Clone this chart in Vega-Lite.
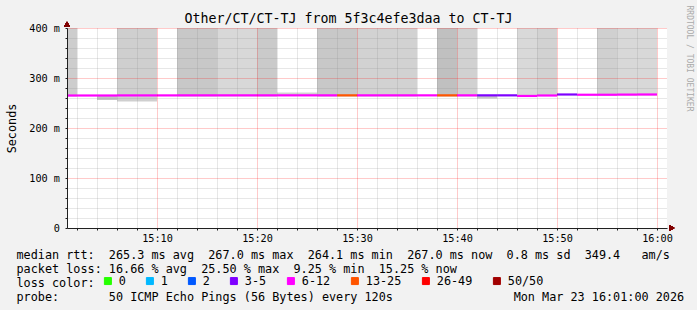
{
  "$schema": "https://vega.github.io/schema/vega-lite/v6.json",
  "width": 600,
  "height": 200,
  "autosize": {"type": "none"},
  "padding": {"left": 67, "top": 28, "right": 30, "bottom": 82},
  "background": "#f2f2f2",
  "view": {"fill": "#ffffff", "stroke": null},
  "title": {
    "text": "Other/CT/CT-TJ from 5f3c4efe3daa to CT-TJ",
    "font": "DejaVu Sans Mono", "fontSize": 13.3, "fontWeight": "normal", "color": "#000000",
    "anchor": "middle", "frame": "group", "dx": -18.5, "offset": -31, "baseline": "alphabetic"
  },
  "data": {
    "values": [
      {"start": "2026-03-23T15:00:00Z", "end": "2026-03-23T15:02:00Z", "smoke_lo": 263, "smoke_hi": 400, "density": 0.5, "median": 265.0, "loss": "6-12"},
      {"start": "2026-03-23T15:02:00Z", "end": "2026-03-23T15:04:00Z", "smoke_lo": null, "smoke_hi": null, "density": null, "median": 265.0, "loss": "6-12"},
      {"start": "2026-03-23T15:04:00Z", "end": "2026-03-23T15:06:00Z", "smoke_lo": 256, "smoke_hi": 265, "density": 0.8, "median": 265.0, "loss": "6-12"},
      {"start": "2026-03-23T15:06:00Z", "end": "2026-03-23T15:08:00Z", "smoke_lo": 253, "smoke_hi": 400, "density": 0.42, "median": 265.2, "loss": "6-12"},
      {"start": "2026-03-23T15:08:00Z", "end": "2026-03-23T15:10:00Z", "smoke_lo": 253, "smoke_hi": 400, "density": 0.42, "median": 265.2, "loss": "6-12"},
      {"start": "2026-03-23T15:10:00Z", "end": "2026-03-23T15:12:00Z", "smoke_lo": null, "smoke_hi": null, "density": null, "median": 265.2, "loss": "6-12"},
      {"start": "2026-03-23T15:12:00Z", "end": "2026-03-23T15:14:00Z", "smoke_lo": 263, "smoke_hi": 400, "density": 0.69, "median": 265.3, "loss": "6-12"},
      {"start": "2026-03-23T15:14:00Z", "end": "2026-03-23T15:16:00Z", "smoke_lo": 263, "smoke_hi": 400, "density": 0.69, "median": 265.3, "loss": "6-12"},
      {"start": "2026-03-23T15:16:00Z", "end": "2026-03-23T15:18:00Z", "smoke_lo": 263, "smoke_hi": 400, "density": 0.08, "median": 265.3, "loss": "6-12"},
      {"start": "2026-03-23T15:18:00Z", "end": "2026-03-23T15:20:00Z", "smoke_lo": 263, "smoke_hi": 400, "density": 0.08, "median": 265.3, "loss": "6-12"},
      {"start": "2026-03-23T15:20:00Z", "end": "2026-03-23T15:22:00Z", "smoke_lo": 263, "smoke_hi": 400, "density": 0.6, "median": 265.3, "loss": "6-12"},
      {"start": "2026-03-23T15:22:00Z", "end": "2026-03-23T15:24:00Z", "smoke_lo": 265, "smoke_hi": 271, "density": 0.3, "median": 265.3, "loss": "6-12"},
      {"start": "2026-03-23T15:24:00Z", "end": "2026-03-23T15:26:00Z", "smoke_lo": 265, "smoke_hi": 271, "density": 0.3, "median": 265.3, "loss": "6-12"},
      {"start": "2026-03-23T15:26:00Z", "end": "2026-03-23T15:28:00Z", "smoke_lo": 263, "smoke_hi": 400, "density": 0.69, "median": 265.3, "loss": "6-12"},
      {"start": "2026-03-23T15:28:00Z", "end": "2026-03-23T15:30:00Z", "smoke_lo": 263, "smoke_hi": 400, "density": 0.69, "median": 265.3, "loss": "13-25"},
      {"start": "2026-03-23T15:30:00Z", "end": "2026-03-23T15:32:00Z", "smoke_lo": 263, "smoke_hi": 400, "density": 0.31, "median": 265.3, "loss": "6-12"},
      {"start": "2026-03-23T15:32:00Z", "end": "2026-03-23T15:34:00Z", "smoke_lo": 263, "smoke_hi": 400, "density": 0.31, "median": 265.3, "loss": "6-12"},
      {"start": "2026-03-23T15:34:00Z", "end": "2026-03-23T15:36:00Z", "smoke_lo": 263, "smoke_hi": 400, "density": 0.31, "median": 265.3, "loss": "6-12"},
      {"start": "2026-03-23T15:36:00Z", "end": "2026-03-23T15:38:00Z", "smoke_lo": null, "smoke_hi": null, "density": null, "median": 265.3, "loss": "6-12"},
      {"start": "2026-03-23T15:38:00Z", "end": "2026-03-23T15:40:00Z", "smoke_lo": 263, "smoke_hi": 400, "density": 1.0, "median": 265.3, "loss": "13-25"},
      {"start": "2026-03-23T15:40:00Z", "end": "2026-03-23T15:42:00Z", "smoke_lo": 263, "smoke_hi": 400, "density": 0.35, "median": 265.3, "loss": "6-12"},
      {"start": "2026-03-23T15:42:00Z", "end": "2026-03-23T15:44:00Z", "smoke_lo": 259, "smoke_hi": 265, "density": 0.7, "median": 265.3, "loss": "3-5"},
      {"start": "2026-03-23T15:44:00Z", "end": "2026-03-23T15:46:00Z", "smoke_lo": null, "smoke_hi": null, "density": null, "median": 265.3, "loss": "3-5"},
      {"start": "2026-03-23T15:46:00Z", "end": "2026-03-23T15:48:00Z", "smoke_lo": 263, "smoke_hi": 400, "density": 0.04, "median": 264.1, "loss": "6-12"},
      {"start": "2026-03-23T15:48:00Z", "end": "2026-03-23T15:50:00Z", "smoke_lo": 264, "smoke_hi": 400, "density": 0.31, "median": 265.0, "loss": "6-12"},
      {"start": "2026-03-23T15:50:00Z", "end": "2026-03-23T15:52:00Z", "smoke_lo": null, "smoke_hi": null, "density": null, "median": 267.0, "loss": "3-5"},
      {"start": "2026-03-23T15:52:00Z", "end": "2026-03-23T15:54:00Z", "smoke_lo": null, "smoke_hi": null, "density": null, "median": 266.5, "loss": "6-12"},
      {"start": "2026-03-23T15:54:00Z", "end": "2026-03-23T15:56:00Z", "smoke_lo": 265, "smoke_hi": 400, "density": 0.38, "median": 266.5, "loss": "6-12"},
      {"start": "2026-03-23T15:56:00Z", "end": "2026-03-23T15:58:00Z", "smoke_lo": 265, "smoke_hi": 400, "density": 0.08, "median": 266.8, "loss": "6-12"},
      {"start": "2026-03-23T15:58:00Z", "end": "2026-03-23T16:00:00Z", "smoke_lo": 265, "smoke_hi": 400, "density": 0.08, "median": 267.0, "loss": "6-12"}
    ]
  },
  "layer": [
    {
      "mark": {"type": "rect", "clip": true},
      "encoding": {
        "x": {
          "field": "start", "type": "temporal",
          "scale": {"type": "utc", "domain": [
            {"year": 2026, "month": 3, "date": 23, "hours": 15, "minutes": 1, "utc": true},
            {"year": 2026, "month": 3, "date": 23, "hours": 16, "minutes": 1, "utc": true}
          ]},
          "axis": {
            "values": [
              {"year": 2026, "month": 3, "date": 23, "hours": 15, "minutes": 2, "utc": true},
              {"year": 2026, "month": 3, "date": 23, "hours": 15, "minutes": 4, "utc": true},
              {"year": 2026, "month": 3, "date": 23, "hours": 15, "minutes": 6, "utc": true},
              {"year": 2026, "month": 3, "date": 23, "hours": 15, "minutes": 8, "utc": true},
              {"year": 2026, "month": 3, "date": 23, "hours": 15, "minutes": 12, "utc": true},
              {"year": 2026, "month": 3, "date": 23, "hours": 15, "minutes": 14, "utc": true},
              {"year": 2026, "month": 3, "date": 23, "hours": 15, "minutes": 16, "utc": true},
              {"year": 2026, "month": 3, "date": 23, "hours": 15, "minutes": 18, "utc": true},
              {"year": 2026, "month": 3, "date": 23, "hours": 15, "minutes": 22, "utc": true},
              {"year": 2026, "month": 3, "date": 23, "hours": 15, "minutes": 24, "utc": true},
              {"year": 2026, "month": 3, "date": 23, "hours": 15, "minutes": 26, "utc": true},
              {"year": 2026, "month": 3, "date": 23, "hours": 15, "minutes": 28, "utc": true},
              {"year": 2026, "month": 3, "date": 23, "hours": 15, "minutes": 32, "utc": true},
              {"year": 2026, "month": 3, "date": 23, "hours": 15, "minutes": 34, "utc": true},
              {"year": 2026, "month": 3, "date": 23, "hours": 15, "minutes": 36, "utc": true},
              {"year": 2026, "month": 3, "date": 23, "hours": 15, "minutes": 38, "utc": true},
              {"year": 2026, "month": 3, "date": 23, "hours": 15, "minutes": 42, "utc": true},
              {"year": 2026, "month": 3, "date": 23, "hours": 15, "minutes": 44, "utc": true},
              {"year": 2026, "month": 3, "date": 23, "hours": 15, "minutes": 46, "utc": true},
              {"year": 2026, "month": 3, "date": 23, "hours": 15, "minutes": 48, "utc": true},
              {"year": 2026, "month": 3, "date": 23, "hours": 15, "minutes": 52, "utc": true},
              {"year": 2026, "month": 3, "date": 23, "hours": 15, "minutes": 54, "utc": true},
              {"year": 2026, "month": 3, "date": 23, "hours": 15, "minutes": 56, "utc": true},
              {"year": 2026, "month": 3, "date": 23, "hours": 15, "minutes": 58, "utc": true}
            ],
            "orient": "bottom",
            "labels": false,
            "tickSize": 2, "tickColor": "#202020",
            "domainColor": "#202020",
            "grid": true, "zindex": 1,
            "gridDash": [1, 1], "gridColor": "#8c8c8c", "gridOpacity": 0.42,
            "title": null
          }
        },
        "x2": {"field": "end"},
        "y": {
          "field": "smoke_lo", "type": "quantitative",
          "scale": {"domain": [0, 400], "nice": false, "zero": false},
          "axis": {
            "values": [0, 20, 40, 60, 80, 100, 120, 140, 160, 180, 200, 220, 240, 260, 280, 300, 320, 340, 360, 380, 400],
            "labelExpr": "datum.value % 100 == 0 ? (datum.value == 0 ? '0' : datum.value + ' m') : ''",
            "labelOverlap": false, "labelFlush": false,
            "labelFont": "DejaVu Sans Mono", "labelFontSize": 10.2, "labelColor": "#000000",
            "labelPadding": 5.5, "tickSize": 2, "tickColor": "#202020",
            "domainColor": "#202020",
            "grid": true, "zindex": 1,
            "gridDash": [1, 1],
            "gridColor": {"condition": {"test": "datum.value % 100 == 0", "value": "#ff0000"}, "value": "#8c8c8c"},
            "gridOpacity": 0.42,
            "title": "Seconds",
            "titleX": -56, "titleY": 100, "titleAngle": -90, "titleAlign": "center", "titleBaseline": "middle",
            "titleFont": "DejaVu Sans Mono", "titleFontSize": 11.8, "titleFontWeight": "normal", "titleColor": "#000000"
          }
        },
        "y2": {"field": "smoke_hi"},
        "fill": {
          "field": "density", "type": "quantitative",
          "scale": {"domain": [0, 1], "range": ["#dadada", "#c0c0c0"]},
          "legend": null
        }
      }
    },
    {
      "mark": {"type": "rule", "clip": true, "strokeWidth": 2.2, "strokeCap": "butt"},
      "encoding": {
        "x": {
          "field": "start", "type": "temporal",
          "axis": {
            "orient": "bottom",
            "values": [
              {"year": 2026, "month": 3, "date": 23, "hours": 15, "minutes": 10, "utc": true},
              {"year": 2026, "month": 3, "date": 23, "hours": 15, "minutes": 20, "utc": true},
              {"year": 2026, "month": 3, "date": 23, "hours": 15, "minutes": 30, "utc": true},
              {"year": 2026, "month": 3, "date": 23, "hours": 15, "minutes": 40, "utc": true},
              {"year": 2026, "month": 3, "date": 23, "hours": 15, "minutes": 50, "utc": true},
              {"year": 2026, "month": 3, "date": 23, "hours": 16, "minutes": 0, "utc": true}
            ],
            "labelExpr": "utcFormat(datum.value, '%H:%M')",
            "labelOverlap": false, "labelFlush": false,
            "labelFont": "DejaVu Sans Mono", "labelFontSize": 10.2, "labelColor": "#000000",
            "labelPadding": 3, "tickSize": 2, "tickColor": "#202020",
            "domain": false,
            "grid": true, "zindex": 1,
            "gridDash": [1, 1], "gridColor": "#ff0000", "gridOpacity": 0.42,
            "title": [
              "median rtt:\u00a0\u00a0265.3 ms avg\u00a0\u00a0267.0 ms max\u00a0\u00a0264.1 ms min\u00a0\u00a0267.0 ms now\u00a0\u00a00.8 ms sd\u00a0\u00a0349.4\u00a0\u00a0\u00a0am/s",
              "packet loss: 16.66 % avg\u00a0\u00a025.50 % max\u00a0\u00a09.25 % min\u00a0\u00a015.25 % now",
              "loss color:",
              "probe:\u00a0\u00a0\u00a0\u00a0\u00a0\u00a0\u00a050 ICMP Echo Pings (56 Bytes) every 120s\u00a0\u00a0\u00a0\u00a0\u00a0\u00a0\u00a0\u00a0\u00a0\u00a0\u00a0\u00a0\u00a0\u00a0\u00a0\u00a0\u00a0Mon Mar 23 16:01:00 2026"
            ],
            "titleX": -51, "titleY": 21, "titleAlign": "left", "titleBaseline": "top",
            "titleFont": "DejaVu Sans Mono", "titleFontSize": 11.8, "titleFontWeight": "normal",
            "titleColor": "#000000", "titleLineHeight": 14
          }
        },
        "x2": {"field": "end"},
        "y": {
          "field": "median", "type": "quantitative",
          "axis": {
            "orient": "right", "labels": false, "ticks": false, "domain": false, "grid": false,
            "title": "RRDTOOL / TOBI OETIKER",
            "titleAngle": 90, "titleX": 21, "titleY": -23, "titleAlign": "left", "titleBaseline": "middle",
            "titleFont": "DejaVu Sans Mono", "titleFontSize": 8, "titleFontWeight": "normal", "titleColor": "#aaaaaa"
          }
        },
        "color": {
          "field": "loss", "type": "nominal",
          "scale": {
            "domain": ["0", "1", "2", "3-5", "6-12", "13-25", "26-49", "50/50"],
            "range": ["#26ff00", "#00b8ff", "#0059ff", "#7e00ff", "#ff00ff", "#ff5500", "#ff0000", "#a10000"]
          },
          "legend": {
            "orient": "none", "legendX": 35, "legendY": 247,
            "direction": "horizontal", "columns": 8, "title": null,
            "symbolType": "square", "symbolSize": 49, "symbolStrokeWidth": 1,
            "labelFont": "DejaVu Sans Mono", "labelFontSize": 11.8, "labelColor": "#000000",
            "labelOffset": 5, "columnPadding": 18, "padding": 0,
            "encode": {
              "symbols": {
                "update": {
                  "fill": {"scale": "color", "field": "value"},
                  "stroke": {"value": "#000000"},
                  "strokeWidth": {"value": 1},
                  "opacity": {"value": 1}
                }
              }
            }
          }
        }
      }
    },
    {
      "mark": {"type": "point", "shape": "triangle-up", "filled": true, "size": 28, "color": "#800000", "opacity": 1},
      "encoding": {
        "x": {"datum": {"year": 2026, "month": 3, "date": 23, "hours": 15, "minutes": 1, "utc": true}, "type": "temporal", "axis": null},
        "y": {"datum": 408, "type": "quantitative", "axis": null}
      }
    },
    {
      "mark": {"type": "point", "shape": "triangle-right", "filled": true, "size": 28, "color": "#800000", "opacity": 1},
      "encoding": {
        "x": {"datum": {"year": 2026, "month": 3, "date": 23, "hours": 16, "minutes": 1, "seconds": 30, "utc": true}, "type": "temporal", "axis": null},
        "y": {"datum": 0, "type": "quantitative", "axis": null}
      }
    }
  ],
  "resolve": {"axis": {"x": "independent", "y": "independent"}}
}
